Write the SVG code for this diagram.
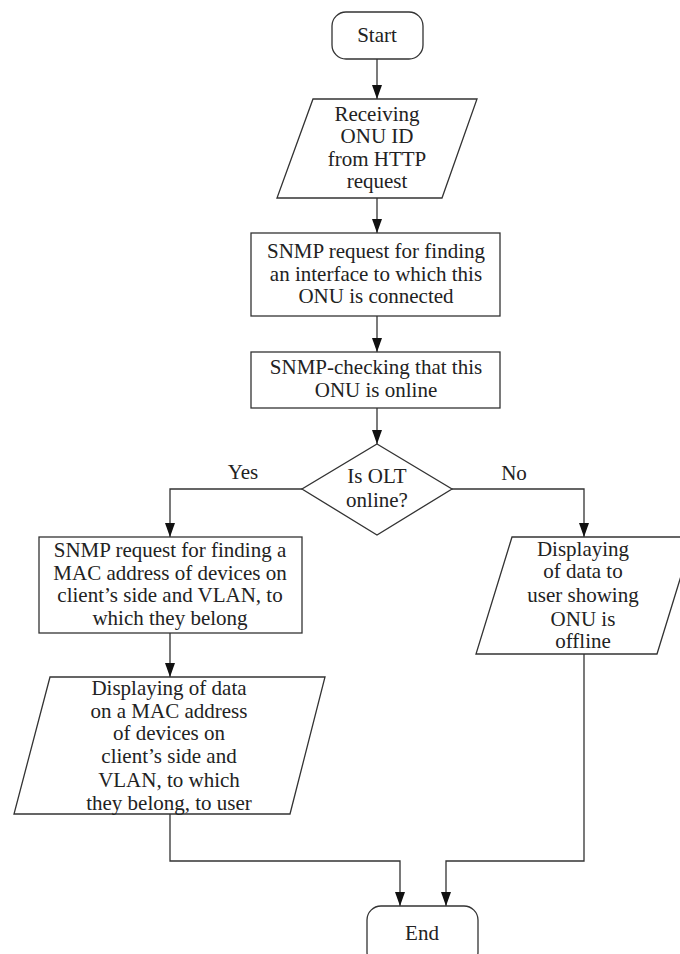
<svg xmlns="http://www.w3.org/2000/svg" width="680" height="954" viewBox="0 0 680 954">
<defs>
<style>
.n{fill:#fff;stroke:#333;stroke-width:1.3}
.c{fill:none;stroke:#333;stroke-width:1.3}
text{font-family:"Liberation Serif","Times New Roman",serif;font-size:21px;fill:#222;text-anchor:middle}
</style>
<marker id="ah" markerUnits="userSpaceOnUse" markerWidth="14" markerHeight="10" refX="14" refY="5" orient="auto">
<path d="M0,0 L14,5 L0,10 z" fill="#111"/>
</marker>
</defs>
<rect width="680" height="954" fill="#fff"/>
<g id="connectors">
<path class="c" d="M377,59 V99" marker-end="url(#ah)"/>
<path class="c" d="M377,198 V233" marker-end="url(#ah)"/>
<path class="c" d="M377,316 V352" marker-end="url(#ah)"/>
<path class="c" d="M377,408 V444" marker-end="url(#ah)"/>
<path class="c" d="M302,489 H170 V537" marker-end="url(#ah)"/>
<path class="c" d="M452,489 H584 V537" marker-end="url(#ah)"/>
<path class="c" d="M170,633 V677" marker-end="url(#ah)"/>
<path class="c" d="M170,814 V861 H400 V906" marker-end="url(#ah)"/>
<path class="c" d="M584,654 V861 H446 V906" marker-end="url(#ah)"/>
<text x="243" y="479">Yes</text>
<text x="514" y="480">No</text>
</g>
<g id="start">
<rect class="n" x="332" y="12" width="91" height="47" rx="14"/>
<text x="377" y="42">Start</text>
</g>
<g id="receive">
<polygon class="n" points="313,99 477,99 442,198 277,198"/>
<text x="377" y="121">Receiving</text>
<text x="377" y="143">ONU ID</text>
<text x="377" y="166">from HTTP</text>
<text x="377" y="188">request</text>
</g>
<g id="snmp-interface">
<rect class="n" x="251" y="233" width="249" height="83"/>
<text x="376" y="258">SNMP request for finding</text>
<text x="376" y="281">an interface to which this</text>
<text x="376" y="303">ONU is connected</text>
</g>
<g id="snmp-check">
<rect class="n" x="251" y="352" width="249" height="56"/>
<text x="376" y="374">SNMP-checking that this</text>
<text x="376" y="397">ONU is online</text>
</g>
<g id="decision">
<polygon class="n" points="377,444 452,489 377,535 302,489"/>
<text x="377" y="483">Is OLT</text>
<text x="377" y="507">online?</text>
</g>
<g id="snmp-mac">
<rect class="n" x="39" y="537" width="263" height="96"/>
<text x="170" y="557">SNMP request for finding a</text>
<text x="170" y="580">MAC address of devices on</text>
<text x="170" y="602">client’s side and VLAN, to</text>
<text x="170" y="625">which they belong</text>
</g>
<g id="display-mac">
<polygon class="n" points="50,677 325,677 290,814 14,814"/>
<text x="169" y="695">Displaying of data</text>
<text x="169" y="718">on a MAC address</text>
<text x="169" y="740">of devices on</text>
<text x="169" y="763">client’s side and</text>
<text x="169" y="787">VLAN, to which</text>
<text x="169" y="810">they belong, to user</text>
</g>
<g id="display-offline">
<polygon class="n" points="512,537 693,537 657,654 476,654"/>
<text x="583" y="556">Displaying</text>
<text x="583" y="578">of data to</text>
<text x="583" y="602">user showing</text>
<text x="583" y="626">ONU is</text>
<text x="583" y="648">offline</text>
</g>
<g id="end">
<rect class="n" x="367" y="906" width="111" height="60" rx="14"/>
<text x="422" y="940">End</text>
</g>
</svg>
